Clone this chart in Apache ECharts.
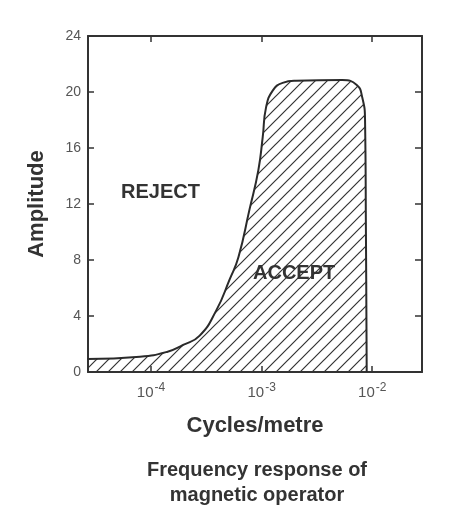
<!DOCTYPE html>
<html>
<head>
	<meta charset="utf-8" />
	<title>Frequency response of magnetic operator</title>
	<script src="https://cdn.jsdelivr.net/npm/echarts@6.0.0/dist/echarts.min.js"></script>
	<style>
		body { margin: 0; background: #fff; }
	</style>
</head>
<body>
	<div id="main" style="width: 449px;height: 519px;"></div>

	<script type="text/javascript">
		// x values are log10 of cycles/metre
		var logFreq = [-4.575, -4.10, -3.85, -3.71, -3.56, -3.41, -3.29, -3.21, -3.11, -3.03, -2.99, -2.96, -2.90, -2.81, -2.69, -2.27, -2.14, -2.09, -2.065, -2.057, -2.052, -2.05];
		var amplitude = [0.93, 1.09, 1.45, 1.93, 2.6, 4.4, 6.6, 8.2, 11.6, 14.4, 16.8, 18.9, 20.1, 20.65, 20.8, 20.85, 20.5, 19.6, 18.0, 10.0, 3.0, 0];
		var decades = [-4, -3, -2];
		var ampTicks = [0, 4, 8, 12, 16, 20, 24];

		// hatch tile for the accept region
		var tile = document.createElement('canvas');
		tile.width = 12;
		tile.height = 12;
		var ctx = tile.getContext('2d');
		ctx.strokeStyle = '#333';
		ctx.lineWidth = 1.2;
		ctx.beginPath();
		ctx.moveTo(-2, 14); ctx.lineTo(14, -2);
		ctx.moveTo(-8, 8); ctx.lineTo(8, -8);
		ctx.moveTo(4, 20); ctx.lineTo(20, 4);
		ctx.stroke();

		var points = [];
		for (var i = 0; i < logFreq.length; i++) {
			points.push([logFreq[i], amplitude[i]]);
		}

		var myChart = echarts.init(document.getElementById("main"));

		var lineCol = '#333';
		var tickLabel = {
			color: '#555',
			fontFamily: 'Liberation Sans',
			fontSize: 14
		};

		var option = {
			animation: false,
			grid: {left: 88, right: 27, top: 36, bottom: 147},
			xAxis: [{
				type: 'value',
				min: -4.57,
				max: -1.55,
				position: 'bottom',
				name: 'Cycles/metre',
				nameLocation: 'middle',
				nameGap: 43,
				nameTextStyle: {color: '#333', fontFamily: 'Liberation Sans', fontWeight: 'bold', fontSize: 22},
				axisLine: {onZero: false, lineStyle: {color: lineCol, width: 2}},
				axisTick: {inside: true, length: 6, customValues: decades, lineStyle: {color: lineCol, width: 1.5}},
				axisLabel: {
					customValues: decades,
					margin: 10,
					formatter: function (v) { return '{b|10}{s|' + v + '}'; },
					rich: {
						b: {color: '#555', fontFamily: 'Liberation Sans', fontSize: 15},
						s: {color: '#555', fontFamily: 'Liberation Sans', fontSize: 12, verticalAlign: 'top', padding: [0, 0, 9, 1]}
					}
				},
				splitLine: {show: false}
			}, {
				type: 'value',
				min: -4.57,
				max: -1.55,
				position: 'top',
				axisLine: {onZero: false, lineStyle: {color: lineCol, width: 2}},
				axisTick: {inside: true, length: 6, customValues: decades, lineStyle: {color: lineCol, width: 1.5}},
				axisLabel: {show: false},
				splitLine: {show: false}
			}],
			yAxis: [{
				type: 'value',
				min: 0,
				max: 24,
				interval: 4,
				position: 'left',
				name: 'Amplitude',
				nameLocation: 'middle',
				nameGap: 40,
				nameTextStyle: {color: '#333', fontFamily: 'Liberation Sans', fontWeight: 'bold', fontSize: 22},
				axisLine: {onZero: false, lineStyle: {color: lineCol, width: 2}},
				axisTick: {inside: true, length: 6, lineStyle: {color: lineCol, width: 1.5}},
				axisLabel: Object.assign({margin: 7, customValues: ampTicks}, tickLabel),
				splitLine: {show: false}
			}, {
				type: 'value',
				min: 0,
				max: 24,
				interval: 4,
				position: 'right',
				axisLine: {onZero: false, lineStyle: {color: lineCol, width: 2}},
				axisTick: {inside: true, length: 7, lineStyle: {color: lineCol, width: 1.5}},
				axisLabel: {show: false},
				splitLine: {show: false}
			}],
			series: [{
				type: 'line',
				data: points,
				smooth: 0.5,
				showSymbol: false,
				lineStyle: {color: '#2a2a2a', width: 2},
				areaStyle: {color: {image: tile, repeat: 'repeat'}, opacity: 1}
			}],
			graphic: [{
				type: 'text', left: 121, top: 182,
				style: {text: 'REJECT', fill: '#333', font: 'bold 20px "Liberation Sans"'}
			}, {
				type: 'text', left: 253, top: 263,
				style: {text: 'ACCEPT', fill: '#333', font: 'bold 20px "Liberation Sans"'}
			}, {
				type: 'text', x: 257, y: 470,
				style: {text: 'Frequency response of', fill: '#333', font: 'bold 20px "Liberation Sans"', align: 'center', verticalAlign: 'middle'}
			}, {
				type: 'text', x: 257, y: 495,
				style: {text: 'magnetic operator', fill: '#333', font: 'bold 20px "Liberation Sans"', align: 'center', verticalAlign: 'middle'}
			}]
		};

		myChart.setOption(option);
	</script>
</body>
</html>
